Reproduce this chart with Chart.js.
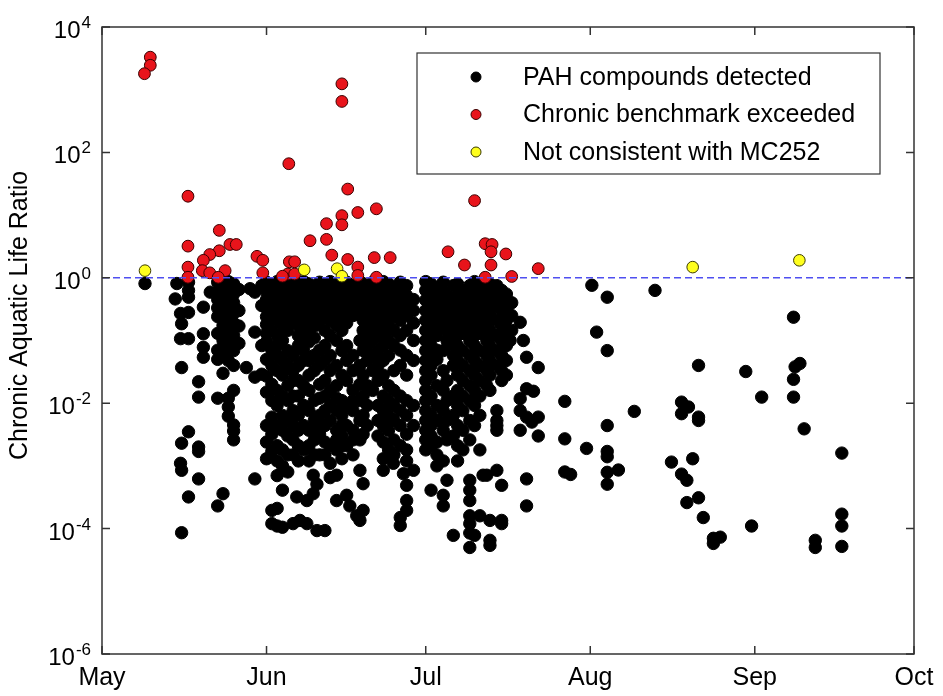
<!DOCTYPE html>
<html>
<head>
<meta charset="utf-8">
<script src="https://cdn.jsdelivr.net/npm/chart.js@4.4.0/dist/chart.umd.min.js"></script>
<style>
    body { margin: 0; background: #fff; }
</style>
</head>
<body>
<canvas id="ratioChart" width="943" height="696"></canvas>
<script>
// Axis ticks (x = days since 1 May)
const monthLabels = ['May', 'Jun', 'Jul', 'Aug', 'Sep', 'Oct'];
const monthDays = [0, 31, 61, 92, 123, 153];
const yTickValues = [1e-6, 1e-4, 1e-2, 1, 1e2, 1e4];
const yTickExponents = ['-6', '-4', '-2', '0', '2', '4'];
const yTitle = 'Chronic Aquatic Life Ratio';
const benchmark = 1;

// Samples not consistent with MC252: [day, ratio]
const notConsistent = [
    [8.1, 1.3], [38.1, 1.34], [44.3, 1.4], [45.2, 1.06], [111.3, 1.48], [131.4, 1.9]
];

// Samples above the chronic benchmark: [day, ratio]
const exceeded = [
    [9.1, 3300], [9.1, 2450], [8.0, 1800], [45.2, 1240], [45.2, 650], [35.2, 66],
    [46.3, 26], [16.2, 20], [51.7, 12.6], [48.2, 11], [45.2, 9.8], [45.2, 7.0],
    [42.3, 7.3], [22.1, 5.7], [16.2, 3.2], [39.2, 3.9], [42.3, 4.1], [24.1, 3.4],
    [25.3, 3.4], [22.1, 2.7], [20.3, 2.35], [19.1, 1.9], [29.2, 2.2], [30.3, 1.9],
    [43.3, 2.3], [46.3, 1.96], [51.3, 2.1], [16.2, 1.48], [16.2, 1.02], [35.3, 1.8],
    [36.3, 1.8], [35.0, 1.15], [36.3, 1.15], [18.9, 1.3], [20.3, 1.2], [23.2, 1.3],
    [21.9, 1.02], [30.3, 1.2], [34.0, 1.06], [48.2, 1.48], [48.2, 1.09], [51.7, 1.02],
    [70.2, 17], [54.3, 2.1], [65.2, 2.6], [68.3, 1.6], [72.2, 3.5], [73.5, 3.4],
    [73.3, 2.6], [73.3, 1.6], [76.1, 2.4], [82.2, 1.4], [72.2, 1.02], [77.2, 1.05]
];

// PAH compounds detected, grouped by sampling day: [day, [ratios]]
const pahDetected = [
    [8.1, [0.81]],
    [14.1, [0.81]],
    [13.8, [0.46]],
    [14.8, [0.27, 0.107, 0.0011]],
    [15.0, [0.185, 0.037, 0.0023, 8.5e-4, 8.6e-5]],
    [16.3, [0.85, 0.63, 0.49, 0.28, 0.107, 0.0035, 3.2e-4]],
    [18.2, [0.022, 0.0125, 0.002, 0.0017, 6.2e-4]],
    [19.1, [0.34, 0.128, 0.078, 0.054]],
    [20.4, [0.59]],
    [21.8, [0.85, 0.6, 0.45, 0.33, 0.24, 0.13, 0.07, 0.05, 0.012, 2.3e-4]],
    [22.8, [0.75, 0.52, 0.36, 0.25, 0.174, 0.1, 0.058, 0.03, 3.6e-4]],
    [23.8, [0.87, 0.63, 0.44, 0.3, 0.21, 0.145, 0.083, 0.048, 0.012, 0.0087, 0.0062]],
    [24.8, [0.8, 0.55, 0.4, 0.27, 0.19, 0.12, 0.069, 0.04, 0.016, 0.0045, 0.0036, 0.0026]],
    [25.8, [0.65, 0.3, 0.17, 0.09]],
    [27.2, [0.037]],
    [27.9, [0.67]],
    [28.8, [0.59, 0.136, 0.026, 6.2e-4]],
    [30.1, [0.75, 0.36, 0.083, 0.029]],
    [31, [0.85, 0.6, 0.45, 0.33, 0.24, 0.18, 0.13, 0.095, 0.05, 0.027, 0.015, 0.0044, 0.0024, 0.0013]],
    [32, [0.75, 0.52, 0.36, 0.25, 0.145, 0.07, 0.04, 0.02, 0.011, 0.006, 0.0032, 0.0017, 1.95e-4, 1.2e-4]],
    [33, [0.87, 0.63, 0.44, 0.3, 0.21, 0.12, 0.083, 0.058, 0.033, 0.016, 0.0092, 0.0044, 0.0021, 0.0012, 7e-4, 2.1e-4, 1.1e-4]],
    [34, [0.8, 0.55, 0.4, 0.27, 0.174, 0.1, 0.048, 0.028, 0.013, 0.0064, 0.0037, 0.0018, 0.001, 4.1e-4, 1.05e-4]],
    [35, [0.7, 0.5, 0.33, 0.24, 0.145, 0.069, 0.04, 0.019, 0.011, 0.0053, 0.003, 0.0015, 8e-4]],
    [36, [0.85, 0.6, 0.45, 0.3, 0.2, 0.058, 0.033, 0.023, 0.013, 0.0076, 0.0044, 0.0026, 0.0015, 1.2e-4]],
    [36.7, [3.2e-4]],
    [37, [0.75, 0.52, 0.36, 0.25, 0.174, 0.12, 0.083, 0.04, 0.023, 0.013, 0.0064, 0.0037, 0.0021, 0.0012]],
    [37.3, [1.35e-4]],
    [38, [0.87, 0.63, 0.44, 0.3, 0.21, 0.145, 0.1, 0.069, 0.048, 0.019, 0.0092, 0.0044, 0.0018]],
    [38.6, [2.8e-4, 1.2e-4]],
    [39, [0.8, 0.55, 0.4, 0.27, 0.19, 0.13, 0.095, 0.048, 0.028, 0.016, 0.0076, 0.0037, 0.0021, 0.0012]],
    [39.8, [7.1e-4, 3.6e-4]],
    [40, [0.7, 0.5, 0.33, 0.24, 0.17, 0.11, 0.058, 0.033, 0.011, 0.0053, 0.0037, 0.0026, 0.0015]],
    [40.5, [5.1e-4, 9.3e-5]],
    [41, [0.85, 0.6, 0.45, 0.33, 0.2, 0.07, 0.04, 0.02, 0.012, 0.0064, 0.0045, 0.0032, 0.0015]],
    [42, [0.75, 0.52, 0.36, 0.25, 0.145, 0.083, 0.048, 0.023, 0.013, 0.0076, 0.0044, 0.0024, 0.0015, 9.3e-5]],
    [43, [0.87, 0.63, 0.44, 0.3, 0.21, 0.12, 0.058, 0.033, 0.016, 0.0092, 0.0053, 0.0021, 0.0011, 6.5e-4]],
    [44.2, [0.8, 0.55, 0.4, 0.27, 0.174, 0.1, 0.04, 0.019, 0.012, 0.0076, 0.0037, 0.0026, 0.0018, 7.1e-4, 2.8e-4]],
    [45.2, [0.7, 0.5, 0.33, 0.24, 0.145, 0.069, 0.028, 0.011, 0.0064, 0.0045, 0.003, 0.0021, 0.0013]],
    [46.1, [0.85, 0.6, 0.45, 0.3, 0.19, 0.083, 0.048, 0.023, 0.0092, 0.0044, 0.0021, 3.4e-4]],
    [46.7, [2.3e-4]],
    [47.3, [0.75, 0.52, 0.36, 0.25, 0.058, 0.033, 0.016, 0.011, 0.0076, 0.0037, 0.0026, 0.0015]],
    [48, [1.6e-4]],
    [48.6, [0.87, 0.63, 0.44, 0.3, 0.1, 0.04, 0.02, 0.011, 0.0053, 0.0026, 8.5e-4, 1.35e-4]],
    [49.2, [0.8, 0.55, 0.4, 0.21, 0.145, 0.069, 0.028, 0.013, 0.0064, 0.0032, 5.2e-4, 1.95e-4]],
    [50, [0.7, 0.5, 0.33, 0.24, 0.17, 0.12, 0.083, 0.048, 0.019, 0.0092, 0.0044]],
    [51, [0.85, 0.6, 0.45, 0.3, 0.21, 0.145, 0.1, 0.058, 0.033, 0.016]],
    [52, [0.75, 0.52, 0.36, 0.25, 0.174, 0.12, 0.069, 0.04, 0.023, 0.0092, 0.0053, 0.003]],
    [53, [0.87, 0.63, 0.44, 0.3, 0.19, 0.13, 0.083, 0.048, 0.028, 0.013, 0.0076, 0.0044, 0.0024, 0.0013, 8.5e-4]],
    [54, [0.8, 0.55, 0.4, 0.27, 0.174, 0.1, 0.058, 0.019, 0.011, 0.0064, 0.0037, 0.0018]],
    [54.9, [0.0011]],
    [55, [0.7, 0.5, 0.33, 0.24, 0.145, 0.083, 0.033, 0.016, 0.0092, 0.0053, 0.0026, 0.0015]],
    [56.2, [0.85, 0.6, 0.45, 0.3, 0.21, 0.12, 0.07, 0.04, 0.013, 0.0076, 0.0044, 0.0021, 1.5e-4, 1.12e-4]],
    [56.8, [7.5e-4]],
    [57.4, [0.75, 0.52, 0.36, 0.25, 0.145, 0.058, 0.028, 0.011, 0.0064, 0.0032, 0.0018, 0.0012, 4.9e-4, 2.8e-4, 1.95e-4]],
    [58.7, [0.45, 0.3, 0.19, 0.1, 0.048, 0.0092, 0.0044, 8.5e-4]],
    [61, [0.87, 0.63, 0.44, 0.3, 0.21, 0.145, 0.1, 0.069, 0.048, 0.033, 0.023, 0.016, 0.011, 0.0076, 0.0053, 0.0037, 0.0026, 0.0018]],
    [62, [0.8, 0.55, 0.4, 0.27, 0.19, 0.13, 0.083, 0.058, 0.04, 0.028, 0.013, 0.0064, 0.0044, 0.003, 0.0021, 4.1e-4]],
    [63.1, [0.7, 0.5, 0.33, 0.24, 0.17, 0.12, 0.07, 0.05, 0.019, 0.0092, 0.0053, 0.0024, 0.0015, 0.001]],
    [64.3, [0.85, 0.6, 0.45, 0.3, 0.21, 0.069, 0.033, 0.016, 0.0076, 0.0037, 0.0012, 3.4e-4, 2.3e-4]],
    [65, [0.52, 0.36, 0.25, 0.145, 0.1, 0.023, 0.011, 0.0053, 0.0026, 5.9e-4]],
    [66.2, [0.75, 0.44, 0.3, 0.19, 0.13, 0.083, 0.058, 0.04, 0.013, 0.0064, 0.003, 7.8e-5]],
    [67, [0.8, 0.55, 0.36, 0.25, 0.174, 0.12, 0.083, 0.048, 0.028, 0.016, 0.0092, 0.0044, 0.0021, 0.0012]],
    [68, [0.63, 0.4, 0.27, 0.19, 0.13, 0.069, 0.04, 0.023, 0.013, 0.0076, 0.0037, 0.0018]],
    [69.3, [0.75, 0.52, 0.33, 0.21, 0.145, 0.1, 0.058, 0.033, 0.019, 0.011, 0.0053, 0.0026, 5.9e-4, 4.1e-4, 2.8e-4, 1.6e-4, 1.2e-4, 8.5e-5, 5e-5]],
    [70.2, [0.87, 0.6, 0.44, 0.3, 0.21, 0.12, 0.083, 0.048, 0.028, 0.016, 0.0092, 0.0044, 7.8e-5]],
    [71.2, [0.7, 0.5, 0.36, 0.25, 0.174, 0.13, 0.069, 0.04, 0.023, 0.013, 0.0064, 0.0018, 1.6e-4]],
    [71.8, [7.1e-4]],
    [72.5, [0.85, 0.63, 0.45, 0.3, 0.19, 0.1, 0.058, 0.033, 0.019, 7.1e-4]],
    [73.1, [0.8, 0.55, 0.4, 0.27, 0.145, 0.083, 0.048, 0.028, 0.016, 1.35e-4, 6.5e-5, 5.4e-5]],
    [74.4, [0.75, 0.52, 0.36, 0.21, 0.12, 0.069, 0.04, 0.0076, 0.0053, 0.0044, 0.0037, 8.5e-4]],
    [75.3, [0.63, 0.44, 0.3, 0.17, 0.1, 0.058, 0.033, 0.023, 4.9e-4, 1.35e-4, 1.2e-4]],
    [76.2, [0.55, 0.33, 0.21, 0.13, 0.083, 0.048, 0.028]],
    [76.9, [0.1]],
    [77.2, [0.4, 0.25, 0.145]],
    [78.8, [0.195, 0.0118, 0.0076, 0.0037]],
    [79.4, [0.1]],
    [80.0, [0.054, 0.017, 0.006, 6.2e-4, 2.3e-4]],
    [81.0, [0.005]],
    [81.3, [0.0155]],
    [82.2, [0.037, 0.006, 0.003]],
    [87.2, [0.0107, 0.0027, 8e-4]],
    [88.3, [7.3e-4]],
    [91.3, [0.0019]],
    [92.3, [0.76]],
    [93.2, [0.136]],
    [95.2, [0.49, 0.069, 0.0044, 0.0017, 0.0014, 7.9e-4, 5.1e-4]],
    [97.3, [8.6e-4]],
    [100.3, [0.0074]],
    [104.2, [0.63]],
    [107.3, [0.00115]],
    [109.2, [0.0104, 0.0068, 7.4e-4]],
    [110.2, [5.9e-4, 2.6e-4]],
    [110.5, [0.0087]],
    [111.3, [0.0013]],
    [112.4, [0.04, 0.006, 0.0053, 3.1e-4]],
    [113.3, [1.5e-4]],
    [115.2, [7.0e-5, 5.8e-5]],
    [116.5, [7.3e-5]],
    [121.3, [0.032]],
    [122.4, [1.1e-4]],
    [124.3, [0.0125]],
    [130.3, [0.235, 0.024, 0.0125]],
    [130.6, [0.038]],
    [131.5, [0.043]],
    [132.3, [0.0039]],
    [134.4, [6.5e-5, 5e-5]],
    [139.4, [0.0016, 1.7e-4, 1.1e-4, 5.2e-5]]
];

const font = 'Liberation Sans, Arial, Helvetica, sans-serif';

const toPoints = list => list.map(([day, ratio]) => ({ x: day, y: ratio }));
const pahPoints = [];
pahDetected.forEach(([day, ratios]) => {
    ratios.forEach(r => pahPoints.push({ x: day, y: r }));
});

const legendItems = [
    { text: 'PAH compounds detected', fill: '#000000', stroke: '#000000' },
    { text: 'Chronic benchmark exceeded', fill: '#e8141b', stroke: '#3a0000' },
    { text: 'Not consistent with MC252', fill: '#ffff1e', stroke: '#3a3a00' }
];

// Box round the plot with MATLAB style inward ticks, y labels and title
const framePlugin = {
    id: 'frame',
    afterDraw(chart) {
        const { ctx, chartArea: a, scales } = chart;
        ctx.save();
        ctx.strokeStyle = '#333';
        ctx.lineWidth = 1.5;
        ctx.strokeRect(a.left, a.top, a.right - a.left, a.bottom - a.top);
        ctx.beginPath();
        monthDays.forEach(d => {
            const px = scales.x.getPixelForValue(d);
            ctx.moveTo(px, a.bottom); ctx.lineTo(px, a.bottom - 8);
            ctx.moveTo(px, a.top); ctx.lineTo(px, a.top + 8);
        });
        yTickValues.forEach(v => {
            const py = scales.y.getPixelForValue(v);
            ctx.moveTo(a.left, py); ctx.lineTo(a.left + 8, py);
            ctx.moveTo(a.right, py); ctx.lineTo(a.right - 8, py);
        });
        ctx.stroke();

        // power-of-ten labels with a raised exponent
        ctx.fillStyle = '#000';
        ctx.textAlign = 'left';
        ctx.textBaseline = 'alphabetic';
        yTickValues.forEach((v, i) => {
            const py = scales.y.getPixelForValue(v);
            ctx.font = '17px ' + font;
            const expW = ctx.measureText(yTickExponents[i]).width;
            ctx.font = '24px ' + font;
            const baseW = ctx.measureText('10').width;
            const x0 = a.left - 12 - expW - baseW;
            ctx.fillText('10', x0, py + 11);
            ctx.font = '17px ' + font;
            ctx.fillText(yTickExponents[i], x0 + baseW + 1, py + 1);
        });

        // rotated axis title
        ctx.translate(20, a.top + (a.bottom - a.top) * 0.46);
        ctx.rotate(-Math.PI / 2);
        ctx.textAlign = 'center';
        ctx.textBaseline = 'middle';
        ctx.font = '25px ' + font;
        ctx.fillText(yTitle, 0, 0);
        ctx.restore();
    }
};

// Legend box inside the plot, upper right
const legendPlugin = {
    id: 'boxLegend',
    afterDraw(chart) {
        const { ctx, chartArea: a } = chart;
        const left = a.right - 497, top = a.top + 26, w = 463, h = 121;
        ctx.save();
        ctx.fillStyle = '#fff';
        ctx.fillRect(left, top, w, h);
        ctx.strokeStyle = '#333';
        ctx.lineWidth = 1.2;
        ctx.strokeRect(left, top, w, h);
        ctx.font = '25px ' + font;
        ctx.textBaseline = 'middle';
        legendItems.forEach((item, i) => {
            const cy = top + 24 + i * 37.5;
            ctx.beginPath();
            ctx.arc(left + 59, cy, 5, 0, Math.PI * 2);
            ctx.fillStyle = item.fill;
            ctx.fill();
            ctx.lineWidth = 1;
            ctx.strokeStyle = item.stroke;
            ctx.stroke();
            ctx.fillStyle = '#000';
            ctx.fillText(item.text, left + 106, cy + 1);
        });
        ctx.restore();
    }
};

const ctx = document.getElementById('ratioChart').getContext('2d');
new Chart(ctx, {
    type: 'scatter',
    data: {
        datasets: [
            {
                type: 'line',
                label: 'Benchmark',
                data: [{ x: monthDays[0], y: benchmark }, { x: monthDays[5], y: benchmark }],
                borderColor: '#4f4ff0',
                borderWidth: 1.5,
                borderDash: [7, 4],
                pointRadius: 0,
                order: 0
            },
            {
                label: 'Not consistent with MC252',
                data: toPoints(notConsistent),
                backgroundColor: '#ffff1e',
                borderColor: '#3a3a00',
                borderWidth: 1,
                pointRadius: 5.8,
                order: 1
            },
            {
                label: 'Chronic benchmark exceeded',
                data: toPoints(exceeded),
                backgroundColor: '#e8141b',
                borderColor: '#3a0000',
                borderWidth: 1,
                pointRadius: 5.9,
                order: 2
            },
            {
                label: 'PAH compounds detected',
                data: pahPoints,
                backgroundColor: '#000',
                borderColor: '#000',
                borderWidth: 1,
                pointRadius: 6.2,
                order: 3
            }
        ]
    },
    options: {
        responsive: false,
        animation: false,
        devicePixelRatio: 1,
        layout: { padding: { top: 27, right: 29, left: 0, bottom: 0 } },
        plugins: {
            legend: { display: false },
            tooltip: { enabled: false }
        },
        scales: {
            x: {
                type: 'linear',
                min: monthDays[0],
                max: monthDays[5],
                afterBuildTicks: s => { s.ticks = monthDays.map(v => ({ value: v })); },
                afterFit: s => { s.height = 42; },
                grid: { display: false, drawTicks: false },
                border: { display: false },
                ticks: {
                    autoSkip: false,
                    maxRotation: 0,
                    padding: 9,
                    color: '#000',
                    font: { family: font, size: 25 },
                    callback: (v, i) => monthLabels[i]
                }
            },
            y: {
                type: 'logarithmic',
                min: yTickValues[0],
                max: yTickValues[5],
                afterBuildTicks: s => { s.ticks = yTickValues.map(v => ({ value: v })); },
                afterFit: s => { s.width = 102; },
                grid: { display: false, drawTicks: false },
                border: { display: false },
                ticks: { display: false }
            }
        }
    },
    plugins: [framePlugin, legendPlugin]
});
</script>
</body>
</html>
